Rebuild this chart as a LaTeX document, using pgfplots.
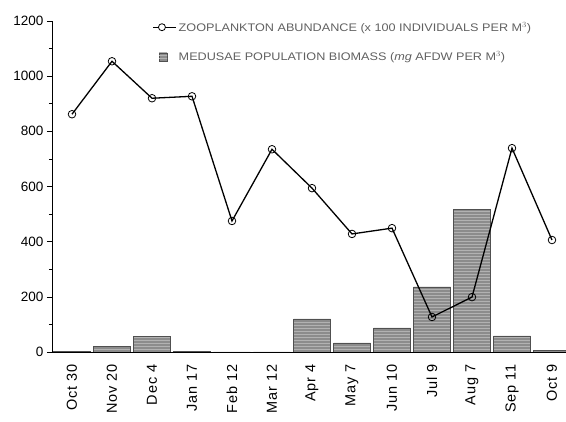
\documentclass[border=0pt]{standalone}
\usepackage{fontspec}
\setmainfont{Liberation Sans}
\newfontfamily\legfont[FakeStretch=1.15]{Liberation Sans}
\newfontfamily\xlabfont[LetterSpace=6]{Liberation Sans}
\usepackage{pgfplots}
\pgfplotsset{compat=1.18}
\usetikzlibrary{patterns}
\definecolor{barfill}{HTML}{8C8C8C}
\definecolor{baredge}{HTML}{505050}
\definecolor{legtext}{HTML}{606060}
\pgfplotsset{
  zooleg/.style={legend image code/.code={\draw[black, line width=1.1pt] (-0.05cm,0) -- (0.75cm,0); \draw[black, line width=0.8pt, fill=white] (0.25cm,0) circle (3.5pt);}},
  medleg/.style={legend image code/.code={\draw[draw=baredge, fill=barfill, line width=0.6pt] (0.15cm,-0.14cm) rectangle (0.43cm,0.14cm); \draw[draw=none, pattern=horizontal lines, pattern color=gray!60] (0.15cm,-0.14cm) rectangle (0.43cm,0.14cm);}},
}
\begin{document}
\begin{tikzpicture}
\path[use as bounding box] (-52pt,-70pt) rectangle (514pt,352pt);
\begin{axis}[
  scale only axis,
  width=514pt, height=331pt,
  xmin=-0.5, xmax=12.35,
  ymin=0, ymax=1200,
  axis x line=bottom, axis y line=left,
  axis line style={-, black, line width=0.8pt},
  ytick={0,200,...,1200},
  minor ytick={100,300,...,1100},
  tick align=outside,
  major tick length=5pt, minor tick length=3pt,
  tick style={black, line width=0.6pt},
  xtick={0,...,12},
  xticklabels={Oct 30,Nov 20,Dec 4,Jan 17,Feb 12,Mar 12,Apr 4,May 7,Jun 10,Jul 9,Aug 7,Sep 11,Oct 9},
  x tick style={draw=none},
  xticklabel shift=4pt,
  x tick label style={rotate=90, anchor=east, font=\xlabfont\fontsize{14.5}{16}\selectfont},
  y tick label style={font=\fontsize{13.5}{15}\selectfont},
  /pgf/number format/assume math mode=true,
  /pgf/number format/1000 sep={},
  legend style={at={(0.19,1.01)}, anchor=north west, draw=none, fill=none,
    font=\legfont\fontsize{11}{12}\selectfont\color{legtext}, row sep=15pt,
    legend cell align=left},
]
\addlegendimage{zooleg}
\addlegendentry{ZOOPLANKTON ABUNDANCE (x 100 INDIVIDUALS PER M$^3$)}
\addlegendimage{medleg}
\addlegendentry{MEDUSAE POPULATION BIOMASS (\textit{mg} AFDW PER M$^3$)}
\addplot[forget plot, ybar, bar width=37pt, draw=baredge, line width=0.7pt, fill=barfill,
  postaction={pattern=horizontal lines, pattern color=gray!60}]
  coordinates {(0,3) (1,20) (2,55) (3,2) (4,0) (5,0) (6,120) (7,33) (8,87) (9,236) (10,518) (11,58) (12,6)};
\addplot[forget plot, black, line width=1.3pt, mark=o, mark size=3.8pt, mark options={fill=white, line width=0.8pt}]
  coordinates {(0,862) (1,1054) (2,920) (3,927) (4,475) (5,735) (6,594) (7,428) (8,449) (9,127) (10,199) (11,739) (12,406)};
\end{axis}
\end{tikzpicture}
\end{document}
